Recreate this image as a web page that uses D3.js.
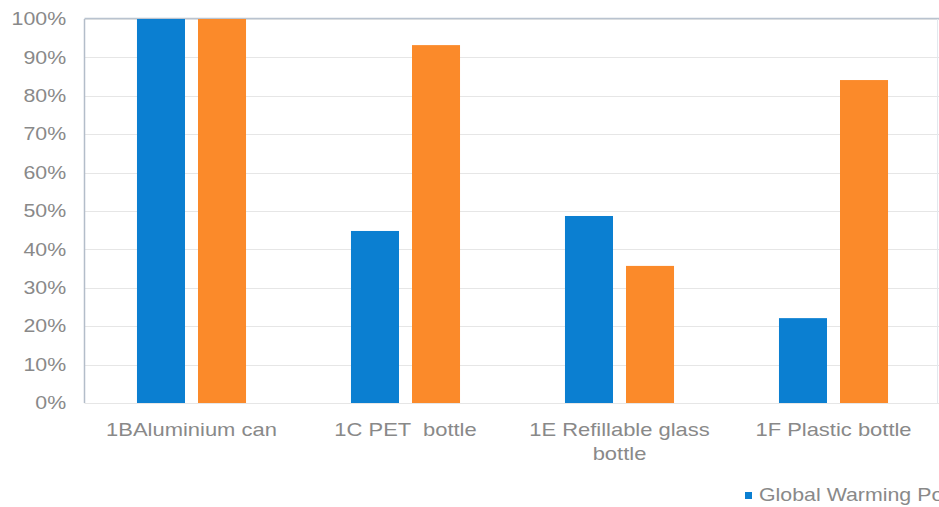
<!DOCTYPE html>
<html>
<head>
<meta charset="utf-8">
<script src="https://cdn.jsdelivr.net/npm/d3@7"></script>
<style>
  html, body { margin: 0; padding: 0; background: #fff; overflow: hidden; }
  svg { display: block; font-family: "Liberation Sans", Arial, sans-serif; }
  text { white-space: pre; }
</style>
</head>
<body>
<svg id="chart" width="939" height="507"></svg>
<script>
// Packaging options compared, each relative to the worst case (100%)
const categories = ["1BAluminium can", "1C PET  bottle", "1E Refillable glass bottle", "1F Plastic bottle"];
const categoryLines = [["1BAluminium can"], ["1C PET  bottle"], ["1E Refillable glass", "bottle"], ["1F Plastic bottle"]];
const legendNames = ["Global Warming Potential"];
const globalWarming = [1.00, 0.448, 0.487, 0.221];
const secondIndicator = [1.00, 0.932, 0.357, 0.841];
const yTicks = [0, 0.1, 0.2, 0.3, 0.4, 0.5, 0.6, 0.7, 0.8, 0.9, 1.0];

const colors = ["#0b7fd1", "#fb8a2a"];
const series = [globalWarming, secondIndicator];
const textColor = "#898989";
const stretch = 1.22; // wide lettering used throughout the chart

const svg = d3.select("#chart");
const margin = { left: 84.5, top: 19, right: -1.5, bottom: 104 };
const W = 939, H = 507;

const x = d3.scaleBand()
  .domain(categories)
  .range([margin.left, W - margin.right])
  .paddingInner(0)
  .paddingOuter(0);

const inner = d3.scaleBand()
  .domain(d3.range(series.length))
  .range([0, x.bandwidth()])
  .paddingInner(0.213)
  .paddingOuter(0.86);

const y = d3.scaleLinear().domain([0, 1]).range([H - margin.bottom, margin.top]);

// Gridlines
svg.append("g")
  .selectAll("line")
  .data(yTicks)
  .join("line")
  .attr("x1", margin.left)
  .attr("x2", W - margin.right)
  .attr("y1", d => Math.round(y(d)) + 0.5)
  .attr("y2", d => Math.round(y(d)) + 0.5)
  .attr("stroke", "#e6e6e6")
  .attr("stroke-width", 1);

// Plot frame: top edge, left axis line, right edge
svg.append("line")
  .attr("x1", margin.left).attr("x2", W - margin.right)
  .attr("y1", Math.round(y(1)) - 0.5).attr("y2", Math.round(y(1)) - 0.5)
  .attr("stroke", "#b9c3cf").attr("stroke-width", 1.5);
svg.append("line")
  .attr("x1", 84.5).attr("x2", 84.5)
  .attr("y1", y(1)).attr("y2", y(0))
  .attr("stroke", "#b3bdc9").attr("stroke-width", 1.5);
svg.append("line")
  .attr("x1", 937.5).attr("x2", 937.5)
  .attr("y1", y(1)).attr("y2", y(0))
  .attr("stroke", "#e3e8ee").attr("stroke-width", 1);

// Bars
const groups = svg.append("g")
  .selectAll("g")
  .data(categories)
  .join("g")
  .attr("transform", d => `translate(${x(d)},0)`);

groups.selectAll("rect")
  .data((d, i) => series.map((s, j) => ({ j, v: s[i] })))
  .join("rect")
  .attr("x", d => inner(d.j))
  .attr("width", inner.bandwidth())
  .attr("y", d => y(d.v))
  .attr("height", d => y(0) - y(d.v))
  .attr("fill", d => colors[d.j]);

// Y axis labels
const yAxis = d3.axisLeft(y)
  .tickValues(yTicks)
  .tickFormat(d3.format(".0%"))
  .tickSize(0)
  .tickPadding(15);
svg.append("g")
  .attr("transform", `translate(${margin.left},0)`)
  .call(yAxis)
  .call(g => g.select(".domain").remove())
  .call(g => g.selectAll("text")
    .attr("fill", textColor)
    .attr("transform", `scale(${stretch},1)`)
    .style("font-size", "17.5px")
    .style("font-family", "'Liberation Sans', Arial, sans-serif"));

// X axis category labels (wrapped)
const xLabels = svg.append("g");
categories.forEach((c, i) => {
  const t = xLabels.append("g")
    .attr("transform", `translate(${x(c) + x.bandwidth() / 2},${y(0) + 33}) scale(${stretch},1)`)
    .append("text")
    .attr("text-anchor", "middle")
    .attr("fill", textColor)
    .style("font-size", "18px");
  categoryLines[i].forEach((line, k) => {
    t.append("tspan")
      .attr("x", 0)
      .attr("dy", k === 0 ? 0 : 24)
      .text(line);
  });
});

// Legend
const legend = svg.append("g").attr("transform", "translate(745,492)");
legendNames.forEach((name, i) => {
  const item = legend.append("g");
  item.append("rect").attr("width", 7).attr("height", 7).attr("fill", colors[i]);
  item.append("g")
    .attr("transform", `translate(14,9) scale(${stretch},1)`)
    .append("text")
    .attr("fill", textColor)
    .style("font-size", "17.5px")
    .text(name);
});
</script>
</body>
</html>
